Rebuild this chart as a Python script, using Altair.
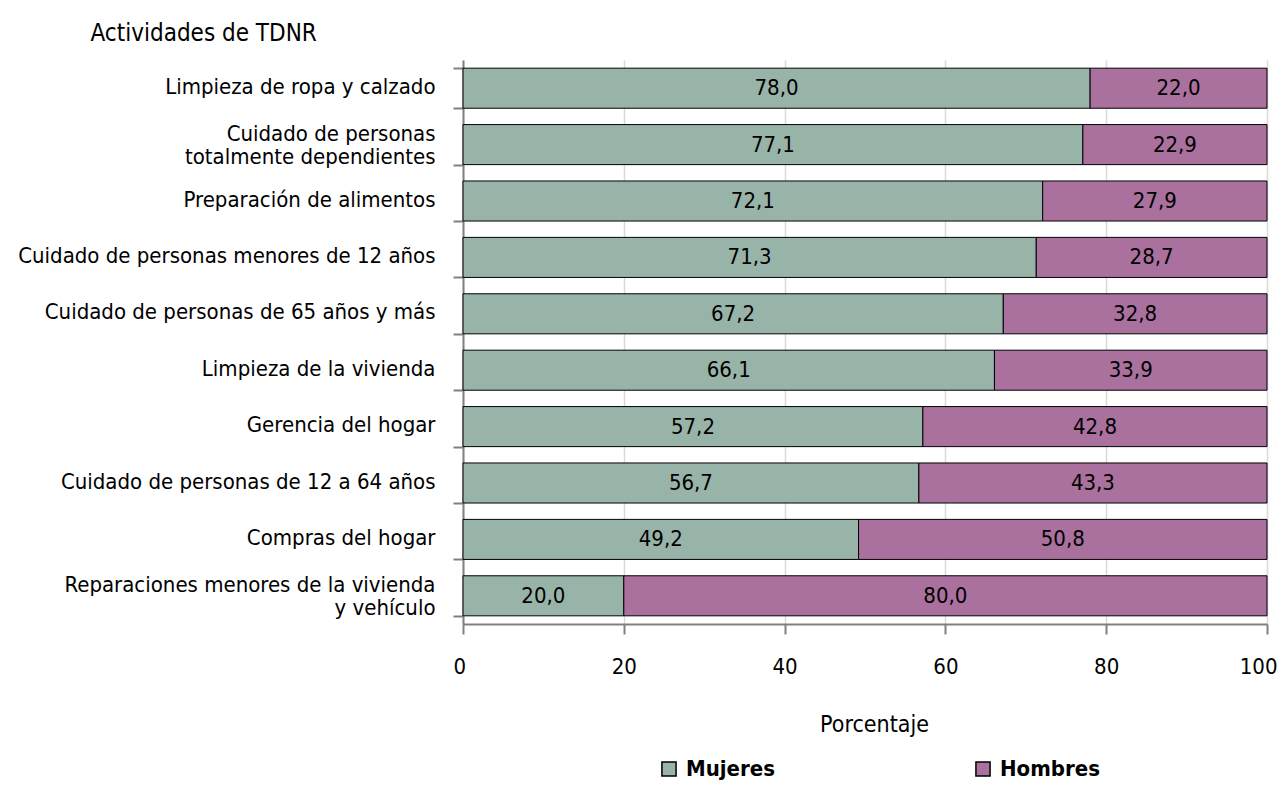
import altair as alt
import pandas as pd

categorias = [
    "Limpieza de ropa y calzado",
    "Cuidado de personas|totalmente dependientes",
    "Preparación de alimentos",
    "Cuidado de personas menores de 12 años",
    "Cuidado de personas de 65 años y más",
    "Limpieza de la vivienda",
    "Gerencia del hogar",
    "Cuidado de personas de 12 a 64 años",
    "Compras del hogar",
    "Reparaciones menores de la vivienda|y vehículo",
]
mujeres = [78.0, 77.1, 72.1, 71.3, 67.2, 66.1, 57.2, 56.7, 49.2, 20.0]
hombres = [22.0, 22.9, 27.9, 28.7, 32.8, 33.9, 42.8, 43.3, 50.8, 80.0]
series = ["Mujeres", "Hombres"]
colores = ["#98b4a8", "#aa709e"]

rows = []
for i, c in enumerate(categorias):
    m, h = mujeres[i], hombres[i]
    rows.append({"cat": c, "serie": "Mujeres", "v": m, "x0": 0.0, "x1": m,
                 "mid": m / 2, "lab": f"{m:.1f}".replace(".", ","), "o": 0})
    rows.append({"cat": c, "serie": "Hombres", "v": h, "x0": m, "x1": m + h,
                 "mid": m + h / 2, "lab": f"{h:.1f}".replace(".", ","), "o": 1})
df = pd.DataFrame(rows)

FONT = "'Liberation Sans Narrow', 'DejaVu Sans Condensed', 'Roboto Condensed', 'Noto Sans', sans-serif"
FS = 22

yenc = alt.Y(
    "cat:N", sort=categorias,
    scale=alt.Scale(paddingInner=0.29, paddingOuter=0.145),
    axis=alt.Axis(
        title="Actividades de TDNR", titleAngle=0, titleAlign="left",
        titleBaseline="middle", titleX=-373, titleY=-27, titleFontSize=24,
        titleFontWeight="normal", titleFont=FONT, titleColor="#000000",
        labelExpr="split(datum.label, '|')", labelFontSize=FS, labelFont=FONT,
        labelColor="#000000", labelPadding=18, labelLimit=500, labelLineHeight=23,
        labelOffset={"condition": {"test": "indexof(datum.label, '|') >= 0",
                                   "value": -11}, "value": -2},
        tickBand="extent", tickSize=10, tickColor="#808080", tickWidth=2,
        domainColor="#808080", domainWidth=2, grid=False,
    ),
)

bars = alt.Chart(df).mark_bar(stroke="#000000", strokeWidth=1).encode(
    y=yenc,
    x=alt.X("x0:Q", scale=alt.Scale(domain=[0, 100], nice=False),
            axis=alt.Axis(
                values=[0, 20, 40, 60, 80, 100], title="Porcentaje",
                titleFontSize=23, titleFontWeight="normal", titleFont=FONT,
                titleColor="#000000", titlePadding=36, titleX=411,
                labelFontSize=FS, labelFont=FONT, labelColor="#000000",
                labelPadding=22, labelFlush=True, labelFlushOffset=10,
                tickSize=10, tickColor="#808080", tickWidth=2,
                domainColor="#808080", domainWidth=2,
                grid=True, gridColor="#d9d9d9", gridWidth=1.5,
            )),
    x2="x1:Q",
    color=alt.Color("serie:N", sort=series,
                    scale=alt.Scale(domain=series, range=colores),
                    legend=alt.Legend(
                        title=None, orient="none", legendX=195, legendY=698,
                        direction="horizontal", symbolType="square",
                        symbolSize=200, symbolStrokeColor="#000000",
                        symbolStrokeWidth=1.5, symbolOpacity=1,
                        labelFontSize=22, labelFontWeight="bold", labelFont=FONT,
                        labelColor="#000000", columnPadding=197, labelOffset=6,
                    )),
    order="o:Q",
)

text = alt.Chart(df).mark_text(fontSize=FS, font=FONT, color="#000000",
                               baseline="middle").encode(
    y=alt.Y("cat:N", sort=categorias),
    x="mid:Q",
    text="lab:N",
)

chart = (bars + text).properties(
    width=804, height=564,
    autosize=alt.AutoSizeParams(type="none"),
    padding={"left": 455, "top": 52, "right": 12, "bottom": 159},
).configure_view(stroke=None)

chart.save("out.html", embed_options={"renderer": "svg", "actions": False})
